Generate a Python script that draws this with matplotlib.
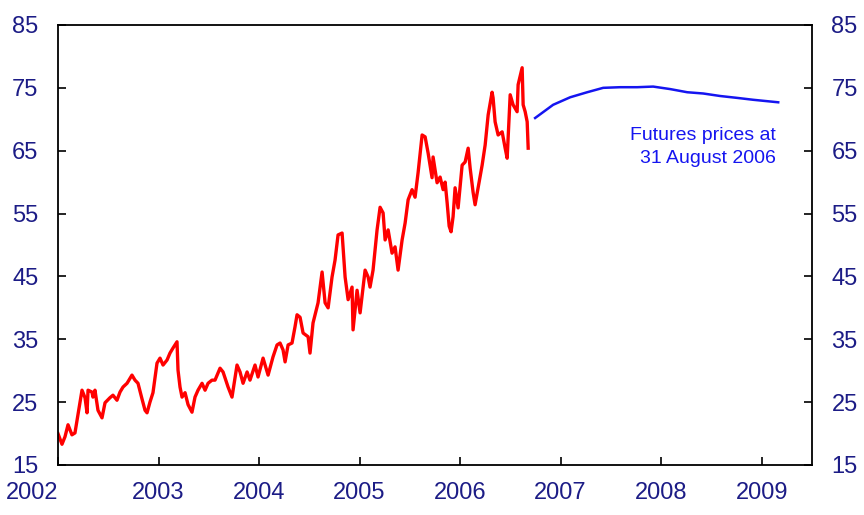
import numpy as np
import matplotlib
matplotlib.use("Agg")
import matplotlib.pyplot as plt

# spot oil price (US$/bbl)
spot_year = [
    2002.000, 2002.040, 2002.070, 2002.100, 2002.139, 2002.169, 2002.209, 2002.239,
    2002.269, 2002.289, 2002.299, 2002.338, 2002.348, 2002.368, 2002.398, 2002.438,
    2002.468, 2002.517, 2002.547, 2002.587, 2002.617, 2002.647, 2002.687, 2002.736,
    2002.766, 2002.796, 2002.836, 2002.866, 2002.886, 2002.915, 2002.945, 2002.985,
    2003.015, 2003.045, 2003.085, 2003.114, 2003.144, 2003.184, 2003.194, 2003.214,
    2003.234, 2003.264, 2003.294, 2003.333, 2003.363, 2003.393, 2003.433, 2003.463,
    2003.493, 2003.532, 2003.562, 2003.612, 2003.642, 2003.692, 2003.731, 2003.781,
    2003.811, 2003.841, 2003.881, 2003.910, 2003.960, 2003.990, 2004.040, 2004.090,
    2004.139, 2004.179, 2004.209, 2004.239, 2004.259, 2004.289, 2004.328, 2004.358,
    2004.378, 2004.408, 2004.438, 2004.488, 2004.507, 2004.537, 2004.587, 2004.627,
    2004.657, 2004.687, 2004.726, 2004.756, 2004.786, 2004.826, 2004.856, 2004.886,
    2004.925, 2004.935, 2004.975, 2005.005, 2005.055, 2005.085, 2005.104, 2005.134,
    2005.174, 2005.204, 2005.234, 2005.254, 2005.284, 2005.323, 2005.353, 2005.383,
    2005.423, 2005.453, 2005.483, 2005.522, 2005.552, 2005.582, 2005.622, 2005.652,
    2005.682, 2005.721, 2005.731, 2005.771, 2005.801, 2005.831, 2005.851, 2005.871,
    2005.891, 2005.910, 2005.930, 2005.950, 2005.980, 2006.020, 2006.050, 2006.080,
    2006.100, 2006.129, 2006.149, 2006.179, 2006.219, 2006.249, 2006.279, 2006.318,
    2006.328, 2006.348, 2006.378, 2006.418, 2006.448, 2006.468, 2006.498, 2006.527,
    2006.567, 2006.577, 2006.617, 2006.627, 2006.647, 2006.667, 2006.677,
]
spot_price = [
    20.0, 18.3, 19.5, 21.4, 19.8, 20.1, 24.0, 26.9,
    25.7, 23.3, 26.9, 26.6, 25.8, 26.9, 23.7, 22.5,
    24.9, 25.7, 26.1, 25.3, 26.6, 27.4, 28.0, 29.3,
    28.5, 28.0, 25.5, 23.7, 23.3, 25.0, 26.5, 31.2,
    32.0, 30.9, 31.7, 32.8, 33.6, 34.6, 30.1, 27.4,
    25.8, 26.5, 24.6, 23.4, 25.8, 26.9, 28.0, 26.9,
    28.0, 28.5, 28.5, 30.4, 29.8, 27.4, 25.8, 30.9,
    29.8, 28.0, 29.8, 28.5, 30.9, 29.0, 32.0, 29.3,
    32.2, 34.1, 34.4, 33.3, 31.4, 34.1, 34.4, 37.0,
    38.9, 38.5, 36.0, 35.4, 32.8, 37.6, 40.8, 45.7,
    40.8, 40.0, 44.9, 47.6, 51.6, 51.9, 44.9, 41.3,
    43.3, 36.5, 42.8, 39.2, 46.0, 44.9, 43.3, 46.0,
    52.4, 56.0, 55.1, 50.8, 52.4, 48.7, 49.7, 46.0,
    50.8, 53.5, 57.2, 58.8, 57.6, 61.5, 67.5, 67.2,
    64.6, 60.7, 64.0, 59.9, 60.8, 58.8, 60.0, 56.7,
    53.0, 52.1, 54.5, 59.1, 55.9, 62.7, 63.2, 65.4,
    62.2, 58.4, 56.4, 59.1, 62.7, 65.9, 70.7, 74.3,
    73.4, 69.6, 67.5, 68.0, 65.4, 63.8, 73.9, 72.3,
    71.2, 75.5, 78.2, 72.3, 71.2, 69.6, 65.4,
]

# futures curve at 31 August 2006
fut_year = [2006.746, 2006.925, 2007.095, 2007.264, 2007.423, 2007.592, 2007.761, 2007.920,
            2008.090, 2008.259, 2008.418, 2008.587, 2008.756, 2008.915, 2009.164]
fut_price = [70.2, 72.3, 73.5, 74.3, 75.0, 75.1, 75.1, 75.2,
             74.8, 74.3, 74.1, 73.7, 73.4, 73.1, 72.7]

year_ticks = [2002, 2003, 2004, 2005, 2006, 2007, 2008, 2009]
price_ticks = [15, 25, 35, 45, 55, 65, 75, 85]

label_col = '#1c1c86'
plt.rcParams['font.family'] = ['Liberation Sans', 'DejaVu Sans']

fig = plt.figure(figsize=(8.64, 5.15), dpi=100)
ax = fig.add_axes([0.0671, 0.0971, 0.8727, 0.8544])

ax.plot(spot_year, spot_price, color='#ff0000', linewidth=2.4)
ax.plot(fut_year, fut_price, color='#1515f0', linewidth=1.8)

ax.text(2009.145, 65.6, 'Futures prices at\n31 August 2006', color='#1515f0',
        fontsize=14, ha='right', va='center', linespacing=1.5)

ax.set_xlim(2002, 2009.5)
ax.set_ylim(15, 85)
ax.set_xticks(year_ticks)
ax.set_xticklabels([str(y) for y in year_ticks])
ax.set_yticks(price_ticks)

ax.tick_params(axis='both', direction='in', length=6, width=1.2, colors='black',
               labelcolor=label_col, labelsize=17)
ax.tick_params(axis='y', left=True, right=True, labelleft=True, labelright=True, pad=14)
ax.tick_params(axis='x', top=False, pad=12)
# first year label sits left of its tick in the original
ax.get_xticklabels()[0].set_horizontalalignment('right')
for sp in ax.spines.values():
    sp.set_linewidth(1.3)
    sp.set_color('black')

fig.savefig('out.png', dpi=100)
